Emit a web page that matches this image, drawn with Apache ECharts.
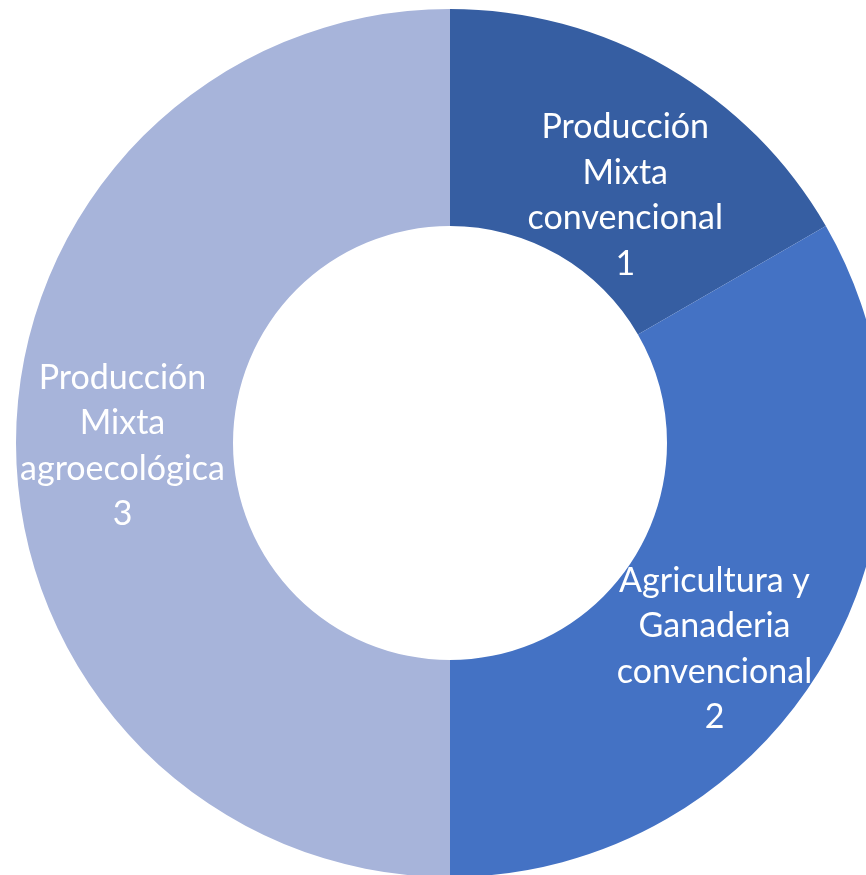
<!DOCTYPE html>
<html>
<head>
<meta charset="utf-8">
<style>
  html, body { margin: 0; padding: 0; background: #fff; }
  #main { width: 866px; height: 875px; }
</style>
<script src="https://cdn.jsdelivr.net/npm/echarts@6/dist/echarts.min.js"></script>
</head>
<body>
<div id="main"></div>
<script>
  // categorías y valores del gráfico
  const categories = ['Producción\nMixta\nconvencional', 'Agricultura y\nGanaderia\nconvencional', 'Producción\nMixta\nagroecológica']
  const values = [1, 2, 3]
  const colors = ['#365EA2', '#4472C4', '#A7B4DA']
  // desplazamiento de etiquetas (a mano, para parecerse al original)
  const labelOffsets = [[11, 37], [-20, 42], [1, 3]]

  const chart = echarts.init(document.getElementById('main'))
  const seriesData = categories.map((name, i) => {
    return {
      name: name,
      value: values[i],
      itemStyle: { color: colors[i] },
      label: { offset: labelOffsets[i] }
    }
  })
  chart.setOption({
    animation: false,
    series: [
      {
        type: 'pie',
        center: [450, 443],
        radius: [217, 434],
        startAngle: 90,
        clockwise: true,
        silent: true,
        itemStyle: { borderWidth: 0 },
        label: {
          show: true,
          position: 'inside',
          formatter: '{b}\n{c}',
          color: '#fff',
          fontFamily: 'Lato',
          fontSize: 34,
          lineHeight: 45.5,
          align: 'center'
        },
        labelLine: { show: false },
        data: seriesData
      }
    ]
  })
</script>
</body>
</html>
